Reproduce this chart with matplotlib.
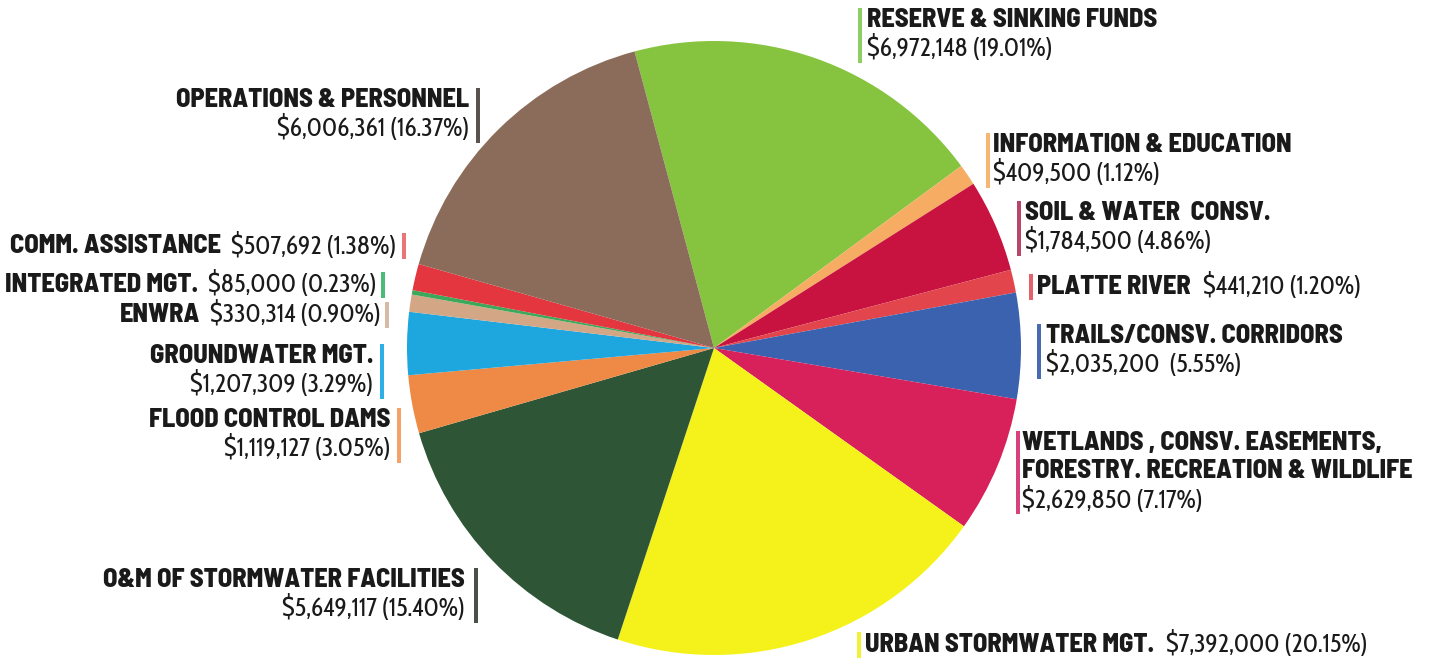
import matplotlib
matplotlib.use("Agg")
import matplotlib.pyplot as plt
from matplotlib.patches import Rectangle

# Budget categories, clockwise from the top
names = ["RESERVE & SINKING FUNDS", "INFORMATION & EDUCATION", "SOIL & WATER  CONSV.",
         "PLATTE RIVER", "TRAILS/CONSV. CORRIDORS",
         "WETLANDS , CONSV. EASEMENTS,\nFORESTRY. RECREATION & WILDLIFE",
         "URBAN STORMWATER MGT.", "O&M OF STORMWATER FACILITIES", "FLOOD CONTROL DAMS",
         "GROUNDWATER MGT.", "ENWRA", "INTEGRATED MGT.", "COMM. ASSISTANCE",
         "OPERATIONS & PERSONNEL"]
amounts = [6972148, 409500, 1784500, 441210, 2035200, 2629850, 7392000, 5649117,
           1119127, 1207309, 330314, 85000, 507692, 6006361]
amount_text = ["$6,972,148", "$409,500", "$1,784,500", "$441,210", "$2,035,200 ",
               "$2,629,850", "$7,392,000", "$5,649,117", "$1,119,127", "$1,207,309",
               "$330,314", "$85,000", "$507,692", "$6,006,361"]
pct_text = ["(19.01%)", "(1.12%)", "(4.86%)", "(1.20%)", "(5.55%)", "(7.17%)", "(20.15%)",
            "(15.40%)", "(3.05%)", "(3.29%)", "(0.90%)", "(0.23%)", "(1.38%)", "(16.37%)"]
wedge_colors = ["#86c440", "#f6ad63", "#c8123f", "#e2454c", "#3a62ae", "#d8205b",
                "#f4f21a", "#2e5636", "#ee8a45", "#1ea6df", "#d3a685", "#3ca85a",
                "#e4363f", "#8b6b59"]
bar_colors = ["#8cd064", "#f7b673", "#b8456a", "#e5606a", "#4a6ab0", "#d8427c",
              "#f3f03a", "#4a4f4a", "#f2a36a", "#2fb0e4", "#d8b9a4", "#4cbb78",
              "#e9747a", "#5a524e"]

W, H = 1433, 663
fig = plt.figure(figsize=(W / 100, H / 100), dpi=100)

cx, cy, r = 714, 348, 307
ax = fig.add_axes([(cx - r) / W, (H - cy - r) / H, 2 * r / W, 2 * r / H])
ax.pie(amounts, colors=wedge_colors, startangle=105, counterclock=False,
       wedgeprops=dict(linewidth=0))
ax.set_xlim(-1, 1)
ax.set_ylim(-1, 1)
ax.set_aspect("equal")
ax.axis("off")

fig.canvas.draw()
renderer = fig.canvas.get_renderer()

name_family = ["Barlow Semi Condensed", "DejaVu Sans"]
val_family = ["Cabin Condensed", "DejaVu Sans"]


def fit_size(text, family, weight, target_px):
    t = fig.text(0, 0, text, family=family, fontweight=weight, fontsize=20)
    w = t.get_window_extent(renderer).width
    t.remove()
    return 20 * target_px / w


name_size = fit_size(names[0], name_family, 800, 289)
val_size = fit_size(amount_text[0] + " " + pct_text[0], val_family, "normal", 186)

name_font = dict(family=name_family, fontweight=800, fontsize=name_size, color="#1a1a1a")
val_font = dict(family=val_family, fontsize=val_size, color="#1a1a1a")

# label layout: (side, x of text edge, bar x, y of first line, single_line)
layout = [
    ("R", 867, 858, 20, False),
    ("R", 993, 986, 145, False),
    ("R", 1025, 1017, 213, False),
    ("R", 1037, 1029, 287, True),
    ("R", 1046, 1037, 336, False),
    ("R", 1022, 1016, 443, False),
    ("R", 865, 857, 645, True),
    ("L", 465, 474, 580, False),
    ("L", 390, 397, 420, False),
    ("L", 373, 380, 356, False),
    ("L", 381, 385, 315, True),
    ("L", 377, 381, 285, True),
    ("L", 396, 402, 246, True),
    ("L", 469, 476, 100, False),
]
line_h = 28.5

for i, (side, tx, bx, y0, single) in enumerate(layout):
    value = amount_text[i] + " " + pct_text[i]
    n_lines = names[i].count("\n") + 1
    if single:
        if side == "R":
            t = fig.text(tx / W, 1 - y0 / H, names[i], ha="left", va="center", **name_font)
            ext = t.get_window_extent(renderer)
            fig.text((ext.x1 + 12) / W, 1 - y0 / H, value, ha="left", va="center", **val_font)
        else:
            t = fig.text(tx / W, 1 - y0 / H, value, ha="right", va="center", **val_font)
            ext = t.get_window_extent(renderer)
            fig.text((ext.x0 - 10) / W, 1 - y0 / H, names[i], ha="right", va="center",
                     **name_font)
        top, bottom = y0 - 13, y0 + 13
    else:
        ha = "left" if side == "R" else "right"
        for k, line in enumerate(names[i].split("\n")):
            fig.text(tx / W, 1 - (y0 + k * line_h) / H, line, ha=ha, va="center",
                     **name_font)
        fig.text(tx / W, 1 - (y0 + n_lines * line_h) / H, value, ha=ha, va="center",
                 **val_font)
        top, bottom = y0 - 12, y0 + n_lines * line_h + 14
    fig.add_artist(Rectangle((bx / W, 1 - bottom / H), 4 / W, (bottom - top) / H,
                             transform=fig.transFigure, color=bar_colors[i], lw=0))

fig.savefig("out.png", dpi=100, facecolor="white")
